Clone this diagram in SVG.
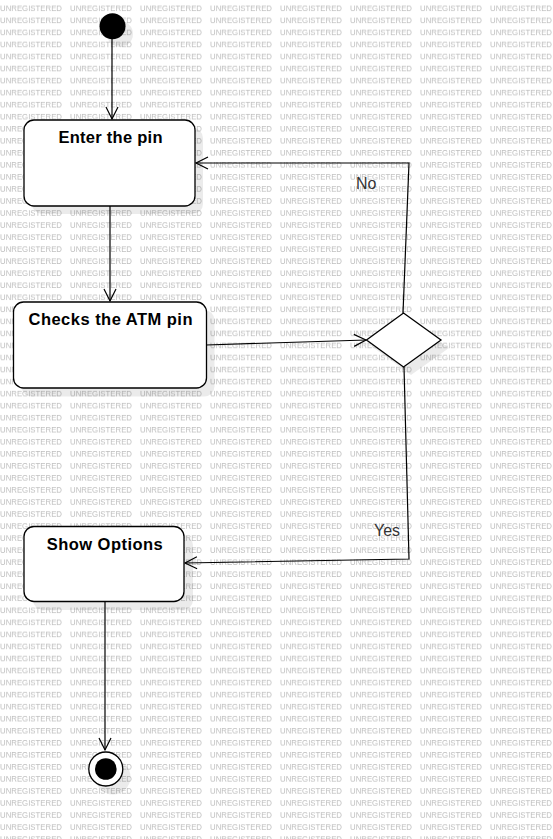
<svg xmlns="http://www.w3.org/2000/svg" width="553" height="839" viewBox="0 0 553 839">
<style>
.wm{font-family:"Liberation Sans",Arial,sans-serif;font-size:7.8px;fill:#bdbdbd}
.node{fill:#fff;stroke:#000;stroke-width:1.3}
.shadow{fill:#000;fill-opacity:0.08;stroke:none}
.title{font-family:"Liberation Sans",Arial,sans-serif;font-size:16.5px;font-weight:bold;fill:#000;text-anchor:middle}
.lbl{font-family:"Liberation Sans",Arial,sans-serif;font-size:16px;fill:#333}
.edge{fill:none;stroke:#000;stroke-width:1.2}
</style>
<defs>
<pattern id="wmp" patternUnits="userSpaceOnUse" x="0" y="0" width="70" height="12.04">
<text class="wm" x="0" y="11" textLength="62" lengthAdjust="spacingAndGlyphs">UNREGISTERED</text>
</pattern>
<marker id="arr" markerUnits="userSpaceOnUse" markerWidth="16" markerHeight="16" viewBox="-13 -7 16 14" refX="0" refY="0" orient="auto">
<path d="M-12,-6 L0,0 L-12,6" fill="none" stroke="#000" stroke-width="1.2"/>
</marker>
</defs>
<rect width="553" height="839" fill="#fff"/>
<rect width="553" height="839" fill="url(#wmp)"/>

<g id="connectors">
<line class="edge" x1="112" y1="39" x2="112" y2="119" marker-end="url(#arr)"/>
<line class="edge" x1="110" y1="206" x2="110" y2="301" marker-end="url(#arr)"/>
<line class="edge" x1="206" y1="345" x2="366" y2="340" marker-end="url(#arr)"/>
<polyline class="edge" points="403,313 409,163 196,163" marker-end="url(#arr)"/>
<polyline class="edge" points="404,367 409,559 185,563" marker-end="url(#arr)"/>
<line class="edge" x1="105" y1="601" x2="105" y2="750" marker-end="url(#arr)"/>
<text class="lbl" x="356" y="189">No</text>
<text class="lbl" x="374" y="536">Yes</text>
</g>

<g id="start">
<circle class="shadow" cx="120" cy="34" r="13"/>
<circle cx="112.5" cy="26.3" r="13" fill="#000"/>
</g>

<g id="enter-pin">
<rect class="shadow" x="32" y="128" width="171" height="86" rx="10"/>
<rect class="node" x="24" y="120" width="171" height="86" rx="10"/>
<text class="title" x="110.5" y="142.5" textLength="104" lengthAdjust="spacing">Enter the pin</text>
</g>

<g id="checks-pin">
<rect class="shadow" x="21.5" y="310" width="193" height="86.5" rx="10"/>
<rect class="node" x="13.5" y="302" width="193" height="86" rx="10"/>
<text class="title" x="110.5" y="324.5" textLength="164" lengthAdjust="spacing">Checks the ATM pin</text>
</g>

<g id="decision">
<polygon class="shadow" points="411,321 449,348 411,375 374,348"/>
<polygon class="node" points="403.5,313 441,340 403.5,367 366.5,340"/>
</g>

<g id="show-options">
<rect class="shadow" x="33" y="535" width="160" height="75" rx="10"/>
<rect class="node" x="24" y="526.5" width="160" height="75" rx="10"/>
<text class="title" x="104.7" y="550" textLength="116" lengthAdjust="spacing">Show Options</text>
</g>

<g id="end">
<circle class="shadow" cx="113" cy="777" r="17.5"/>
<circle class="node" cx="105.8" cy="769" r="17"/>
<circle cx="105.8" cy="769" r="10.8" fill="#000"/>
</g>
</svg>
